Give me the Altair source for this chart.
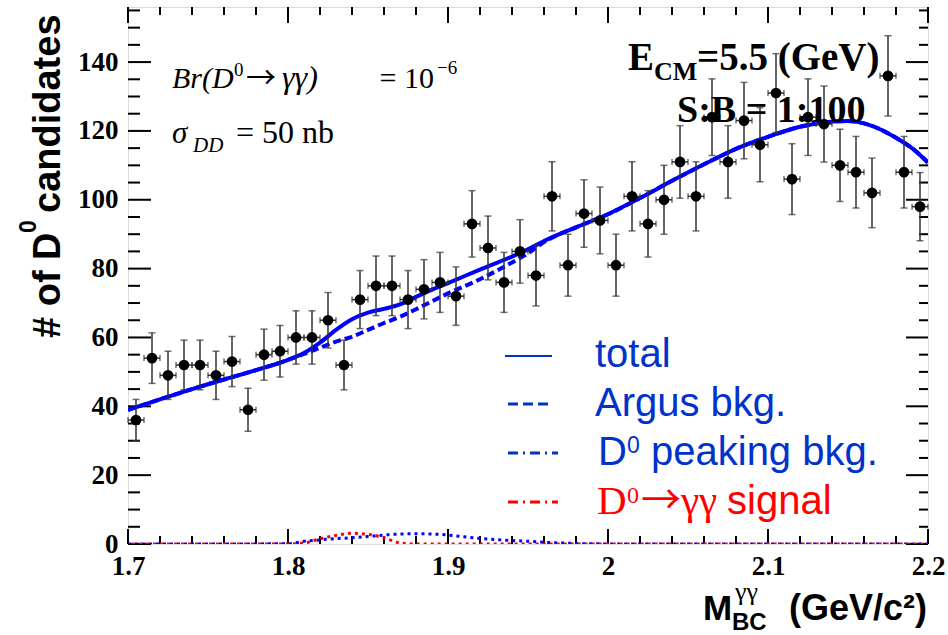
import altair as alt
import numpy as np
import pandas as pd

# ---- data -------------------------------------------------------------
# 50 bins of width 0.01 GeV/c^2 between 1.70 and 2.20
bin_center = [round(1.705 + 0.01 * i, 3) for i in range(50)]
counts = [36, 54, 49, 52, 52, 49, 53, 39, 55, 56,
          60, 60, 65, 52, 71, 75, 75, 71, 74, 76,
          72, 93, 86, 76, 85, 78, 101, 81, 96, 94,
          81, 101, 93, 100, 111, 101, 124, 111, 123, 116,
          131, 106, 124, 122, 110, 108, 102, 136, 108, 98]

# fitted curves
curve_x = [1.70, 1.72, 1.74, 1.76, 1.78, 1.80, 1.81, 1.82, 1.83, 1.84,
           1.85, 1.86, 1.87, 1.88, 1.89, 1.90, 1.92, 1.94, 1.95, 1.96,
           1.98, 2.00, 2.02, 2.04, 2.06, 2.08, 2.10, 2.12, 2.14, 2.15,
           2.16, 2.17, 2.18, 2.19, 2.20]
total_fit = [39.0, 42.0, 45.0, 47.8, 50.5, 53.5, 55.5, 58.5, 62.2, 65.3,
             67.2, 68.3, 69.6, 71.8, 73.9, 75.8, 79.7, 83.5, 85.6, 88.0,
             92.0, 95.8, 100.5, 105.5, 110.3, 114.8, 118.3, 121.2, 122.7, 122.9,
             122.2, 120.5, 118.0, 115.0, 110.8]
argus_fit = [39.0, 42.0, 45.0, 47.8, 50.5, 53.5, 55.2, 57.0, 58.8, 60.2,
             62.2, 64.2, 66.0, 68.2, 70.5, 72.8, 76.9, 81.8, 84.4, 87.7,
             92.0, 95.8, 100.5, 105.5, 110.3, 114.8, 118.3, 121.2, 122.7, 122.9,
             122.2, 120.5, 118.0, 115.0, 110.8]

comp_x = [1.70, 1.80, 1.81, 1.82, 1.83, 1.84, 1.85, 1.86, 1.87, 1.88,
          1.89, 1.90, 1.91, 1.92, 1.93, 1.94, 1.95, 1.96, 1.97, 1.98,
          2.00, 2.20]
peaking_fit = [0.0, 0.05, 0.8, 1.2, 1.6, 1.8, 2.2, 2.6, 2.9, 3.0,
               2.9, 2.6, 2.1, 1.6, 1.3, 1.0, 0.8, 0.5, 0.3, 0.15,
               0.03, 0.0]
signal_fit = [0.0, 0.0, 0.3, 1.5, 2.5, 3.1, 2.8, 1.8, 0.3, 0.0,
              0.0, 0.0, 0.0, 0.0, 0.0, 0.0, 0.0, 0.0, 0.0, 0.0,
              0.0, 0.0]

x_major = [1.7, 1.8, 1.9, 2.0, 2.1, 2.2]
x_minor = [1.72, 1.74, 1.76, 1.78, 1.82, 1.84, 1.86, 1.88, 1.92, 1.94,
           1.96, 1.98, 2.02, 2.04, 2.06, 2.08, 2.12, 2.14, 2.16, 2.18]
y_major = [0, 20, 40, 60, 80, 100, 120, 140]
y_minor = [5, 10, 15, 25, 30, 35, 45, 50, 55, 65, 70, 75, 85, 90, 95,
           105, 110, 115, 125, 130, 135, 145, 150, 155]

# ---- layout -----------------------------------------------------------
W, H = 800, 537
LEFT, TOP = 128, 7
SERIF = "Liberation Serif"
SANS = "Liberation Sans"
ARROW = "Noto Sans CJK JP"
BLUE = "#0000ff"
LEG_BLUE = "#0033cc"
RED = "#ff0000"

err = np.sqrt(np.array(counts, dtype=float))
pts = pd.DataFrame({
    "x": bin_center, "y": counts,
    "lo": np.array(counts) - err, "hi": np.array(counts) + err,
    "xl": np.array(bin_center) - 0.005, "xr": np.array(bin_center) + 0.005,
})
curves = pd.DataFrame({"x": curve_x, "total": total_fit, "argus": argus_fit})
comps = pd.DataFrame({"x": comp_x, "peak": peaking_fit, "sig": signal_fit})

xs = alt.Scale(domain=[1.7, 2.2], nice=False, zero=False)
ys = alt.Scale(domain=[0, 156], nice=False, zero=True)
x_axis = alt.Axis(values=x_major, format="~g", ticks=False, domain=False, grid=False,
                  labelFlush=False, labelPadding=9, title=None, labelFont=SERIF,
                  labelFontSize=27, labelFontWeight="bold", labelColor="black")
y_axis = alt.Axis(values=y_major, ticks=False, domain=False, grid=False,
                  labelFlush=False, labelPadding=10, title=None, labelFont=SERIF,
                  labelFontSize=27, labelFontWeight="bold", labelColor="black")


def X(field):
    return alt.X(field, type="quantitative", scale=xs, axis=x_axis)


def Y(field):
    return alt.Y(field, type="quantitative", scale=ys, axis=y_axis)


layers = []

# tick marks drawn inside the frame
ymaj = pd.DataFrame({"v": y_major})
ymin = pd.DataFrame({"v": y_minor})
xmaj = pd.DataFrame({"v": x_major})
xmin = pd.DataFrame({"v": x_minor})
tick = dict(color="black", strokeWidth=2)
layers += [
    alt.Chart(ymaj).mark_rule(**tick).encode(y=Y("v"), x=alt.value(0), x2=alt.value(23)),
    alt.Chart(ymin).mark_rule(**tick).encode(y=Y("v"), x=alt.value(0), x2=alt.value(12)),
    alt.Chart(ymaj).mark_rule(**tick).encode(y=Y("v"), x=alt.value(W - 22), x2=alt.value(W)),
    alt.Chart(ymin).mark_rule(**tick).encode(y=Y("v"), x=alt.value(W - 9), x2=alt.value(W)),
    alt.Chart(xmaj).mark_rule(**tick).encode(x=X("v"), y=alt.value(H - 15), y2=alt.value(H)),
    alt.Chart(xmin).mark_rule(**tick).encode(x=X("v"), y=alt.value(H - 8), y2=alt.value(H)),
    alt.Chart(xmaj).mark_rule(**tick).encode(x=X("v"), y=alt.value(0), y2=alt.value(16)),
    alt.Chart(xmin).mark_rule(**tick).encode(x=X("v"), y=alt.value(0), y2=alt.value(8)),
]

# fit components along the baseline
layers += [
    alt.Chart(comps).mark_line(color=BLUE, strokeWidth=3, strokeDash=[3, 4],
                               interpolate="monotone", clip=True).encode(x=X("x"), y=Y("peak")),
    alt.Chart(comps).mark_line(color=RED, strokeWidth=3, strokeDash=[3, 4], strokeDashOffset=3,
                               interpolate="monotone", clip=True).encode(x=X("x"), y=Y("sig")),
    alt.Chart(curves).mark_line(color=BLUE, strokeWidth=4, strokeDash=[8, 4],
                                interpolate="monotone", clip=True).encode(x=X("x"), y=Y("argus")),
    alt.Chart(curves).mark_line(color=BLUE, strokeWidth=4,
                                interpolate="monotone", clip=True).encode(x=X("x"), y=Y("total")),
]

# data points with error bars
ebar = dict(color="#333333")
layers += [
    alt.Chart(pts).mark_rule(strokeWidth=1.5, **ebar).encode(x=X("x"), y=Y("lo"), y2="hi"),
    alt.Chart(pts).mark_tick(orient="horizontal", size=7, thickness=1.5, **ebar).encode(x=X("x"), y=Y("lo")),
    alt.Chart(pts).mark_tick(orient="horizontal", size=7, thickness=1.5, **ebar).encode(x=X("x"), y=Y("hi")),
    alt.Chart(pts).mark_rule(strokeWidth=1.5, **ebar).encode(x=X("xl"), x2="xr", y=Y("y")),
    alt.Chart(pts).mark_tick(orient="vertical", size=6, thickness=1.5, **ebar).encode(x=X("xl"), y=Y("y")),
    alt.Chart(pts).mark_tick(orient="vertical", size=6, thickness=1.5, **ebar).encode(x=X("xr"), y=Y("y")),
    alt.Chart(pts).mark_circle(size=115, color="black", opacity=1).encode(x=X("x"), y=Y("y")),
]


def label(text, px, py, size, font=SANS, weight="normal", style="normal",
          color="black", align="left", angle=0):
    return alt.Chart(pd.DataFrame({"t": [text]})).mark_text(
        font=font, fontSize=size, fontWeight=weight, fontStyle=style, color=color,
        align=align, baseline="alphabetic", angle=angle,
    ).encode(x=alt.value(px - LEFT), y=alt.value(py - TOP), text="t:N")


def sample(x1, x2, py, color, dash=None, width=3):
    kw = dict(color=color, strokeWidth=width)
    if dash:
        kw["strokeDash"] = dash
    return alt.Chart(pd.DataFrame({"t": [0]})).mark_rule(**kw).encode(
        x=alt.value(x1 - LEFT), x2=alt.value(x2 - LEFT), y=alt.value(py - TOP))


# physics annotations
layers += [
    label("Br(D", 172, 88, 30, SERIF, style="italic"),
    label("0", 234, 76, 19, SERIF),
    label("\u2192", 246, 88, 30, ARROW),
    label("\u03b3\u03b3)", 282, 88, 32, SERIF, style="italic"),
    label("= 10", 434, 88, 30, SERIF, align="right"),
    label("\u22126", 437, 74, 19, SERIF),
    label("\u03c3", 172, 143, 31, SERIF, style="italic"),
    label("DD", 193, 152, 21, SERIF, style="italic"),
    label("= 50 nb", 236, 143, 32, SERIF),
    label("E", 628, 70, 39, SERIF, weight="bold"),
    label("CM", 654, 80, 26, SERIF, weight="bold"),
    label("=5.5 (GeV)", 697, 70, 39, SERIF, weight="bold"),
    label("S:B = 1:100", 677, 122, 38, SERIF, weight="bold"),
]

# legend
layers += [
    sample(505, 552, 356, LEG_BLUE, width=2),
    sample(508, 548, 404, LEG_BLUE, dash=[10, 5]),
    sample(508, 558, 453, LEG_BLUE, dash=[10, 5, 2, 5]),
    sample(508, 558, 502, RED, dash=[10, 5, 2, 5]),
    label("total", 595, 367, 40, color=LEG_BLUE),
    label("Argus bkg.", 595, 416, 40, color=LEG_BLUE),
    label("D", 598, 465, 40, color=LEG_BLUE),
    label("0", 627, 453, 23, color=LEG_BLUE),
    label("peaking bkg.", 651, 465, 40, color=LEG_BLUE),
    label("D", 597, 514, 41, SERIF, color=RED),
    label("0", 627, 503, 24, SERIF, color=RED),
    label("\u2192", 641, 514, 40, ARROW, color=RED),
    label("\u03b3\u03b3", 681, 514, 41, SERIF, color=RED),
    label("signal", 727, 514, 40, color=RED),
]

# axis titles
layers += [
    label("# of D", 60, 338, 38, weight="bold", angle=270),
    label("0", 36, 233, 23, weight="bold", angle=270),
    label("candidates", 60, 213, 38, weight="bold", angle=270),
    label("M", 703, 620, 35, weight="bold"),
    label("\u03b3\u03b3", 735, 600, 26, SERIF),
    label("BC", 732, 630, 24, weight="bold"),
    label("(GeV/c\u00b2)", 927, 620, 36, weight="bold", align="right"),
]

chart = alt.layer(*layers).properties(
    width=W, height=H,
    autosize=alt.AutoSizeParams(type="none"),
    padding={"left": LEFT, "top": TOP, "right": 948 - LEFT - W, "bottom": 635 - TOP - H},
).configure_view(stroke="black", strokeWidth=2.5).configure(background="white")

chart.save("out.html", embed_options={"renderer": "svg", "actions": False})
